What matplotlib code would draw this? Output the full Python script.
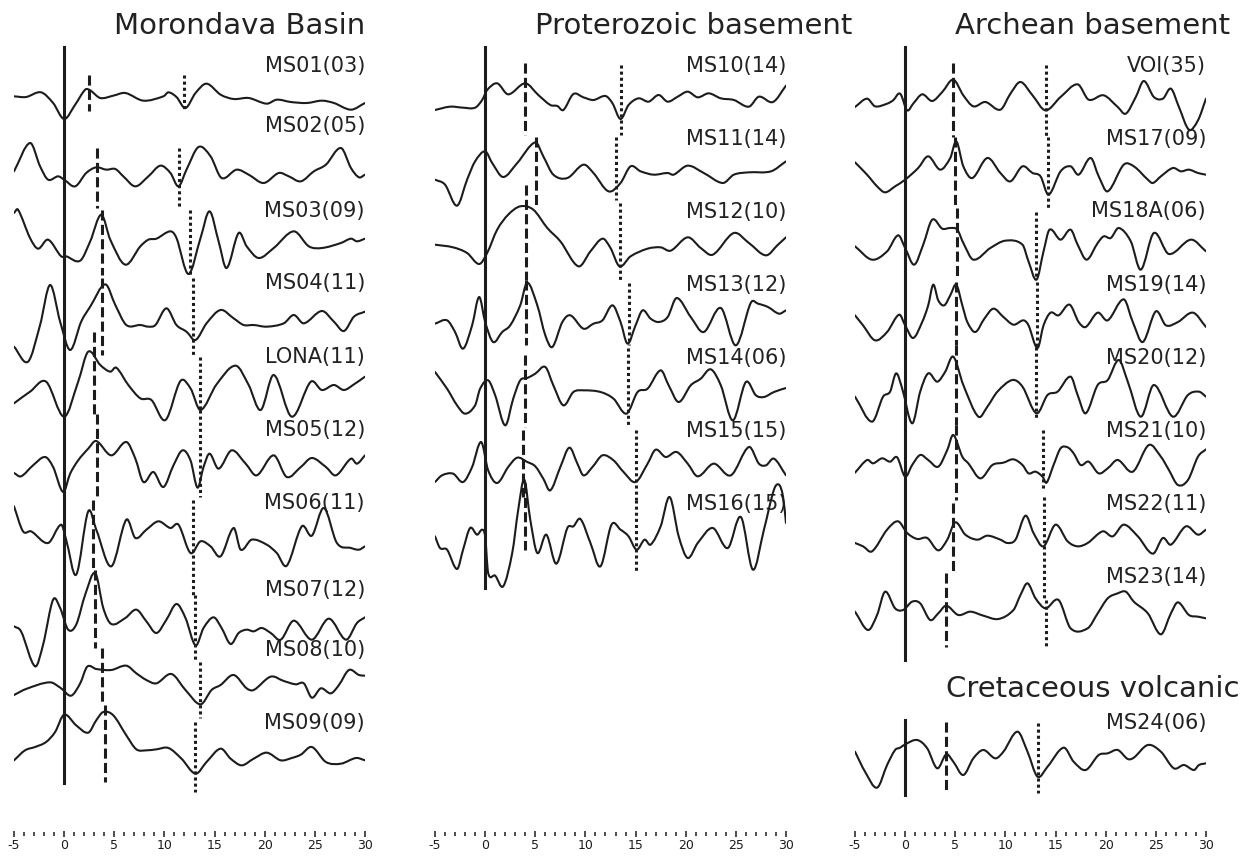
import numpy as np
import matplotlib
matplotlib.use('Agg')
import matplotlib.pyplot as plt
from matplotlib.ticker import MultipleLocator
from matplotlib.path import Path
from matplotlib.patches import PathPatch

plt.rcParams['axes.unicode_minus'] = False

# ---- receiver functions, time [s] and amplitude (arbitrary units) ----
# Morondava Basin
ms01_t = [-5.0, -3.8, -2.3, -1.1, 0.0, 1.1, 2.1, 2.6, 3.6, 4.9, 6.1, 7.9, 9.9, 10.4, 11.2, 12.1, 13.1, 14.2, 15.6, 16.9, 18.4, 20.2, 21.2, 22.6, 24.2, 25.7, 26.9, 28.6, 30.0]
ms01_a = [5, 3, 17, -15, -63, -20, 25, 23, 0, 7, 15, -8, 5, 17, 3, -30, 15, 43, 10, -3, 0, -17, -5, -12, -15, -8, -15, -35, -15]
ms02_t = [-5.0, -3.4, -2.4, -1.6, -0.6, 0.0, 1.1, 2.2, 3.2, 4.2, 5.1, 5.9, 7.1, 8.4, 9.6, 10.6, 11.4, 12.2, 13.4, 14.6, 15.7, 17.2, 18.4, 19.9, 21.4, 22.4, 23.6, 24.9, 26.1, 27.6, 28.6, 29.4, 30.0]
ms02_a = [5, 90, 20, -20, -10, -20, -40, 0, 17, 10, 12, -10, -40, -10, 22, 0, -40, 10, 78, 50, -15, 10, -5, -30, 0, -10, -25, 5, 25, 75, 15, -13, -5]
ms03_t = [-5.0, -4.6, -3.4, -2.6, -1.6, -0.3, 0.2, 1.6, 2.6, 3.7, 4.6, 6.1, 7.6, 8.4, 9.2, 10.6, 11.2, 12.4, 13.6, 14.5, 15.4, 16.2, 17.4, 18.2, 19.4, 20.9, 22.9, 24.4, 25.7, 27.6, 28.6, 29.2, 30.0]
ms03_a = [105, 115, 30, -2, 25, -25, -25, -38, 20, 100, 25, -50, 5, 25, 28, 50, 30, -78, 30, 110, 20, -60, 45, 5, -30, 0, 50, 5, 0, 15, 28, 20, 28]
ms04_t = [-5.0, -3.6, -2.4, -1.4, -0.4, 0.6, 1.7, 2.6, 4.1, 5.1, 6.2, 7.6, 8.4, 9.1, 10.2, 11.2, 12.2, 13.1, 14.2, 15.6, 16.9, 17.9, 18.9, 20.2, 21.9, 22.9, 23.9, 25.7, 26.9, 27.9, 28.9, 30.0]
ms04_a = [-65, -110, 0, 120, 10, -75, 10, 55, 122, 60, 0, 0, -5, 0, 50, 0, -20, -45, 5, 45, 20, 0, 0, -5, 5, 30, 5, 42, 10, -18, 25, 40]
lona_t = [-5.0, -3.4, -1.8, 0.0, 1.4, 2.4, 3.6, 4.6, 5.2, 6.4, 7.6, 8.7, 10.1, 11.6, 12.6, 13.6, 15.2, 17.1, 18.4, 19.6, 20.9, 22.7, 24.6, 25.7, 26.9, 27.9, 28.9, 30.0]
lona_a = [-25, 10, 40, -65, 40, 130, 90, 70, 82, 30, -10, -15, -75, 42, 20, -45, 32, 88, 30, -45, 60, -65, 40, 15, 30, 15, 32, 55]
ms05_t = [-5.0, -4.3, -3.1, -1.9, -1.1, -0.1, 0.6, 1.4, 2.4, 3.2, 4.7, 6.2, 7.1, 7.9, 8.9, 9.9, 10.9, 11.8, 12.6, 13.3, 13.9, 14.5, 15.4, 16.7, 18.1, 19.2, 20.9, 22.2, 23.6, 24.7, 26.1, 27.1, 28.6, 29.2, 30.0]
ms05_a = [-18, -28, 5, 30, 0, -75, -20, 20, 55, 78, 35, 75, 25, -45, -15, -60, 5, 50, 20, -62, 0, 40, -5, 50, 10, -25, 35, -30, 0, 27, 0, -25, 25, 10, 35]
ms06_t = [-5.0, -4.1, -3.3, -1.6, -0.3, 0.2, 1.2, 2.4, 3.2, 4.7, 6.2, 7.1, 8.2, 9.4, 10.6, 11.4, 12.6, 13.6, 14.6, 15.6, 16.9, 17.6, 18.7, 20.2, 21.2, 22.2, 23.7, 24.7, 25.9, 27.2, 28.6, 29.4, 30.0]
ms06_a = [110, 35, 35, 0, 55, 10, -95, 95, 40, -70, 70, 15, 40, 65, 45, 55, -30, 5, -10, -40, 45, -20, 10, -5, -30, -68, 50, 22, 105, 0, -15, -20, -10]
ms07_t = [-5.0, -4.3, -2.9, -2.1, -1.1, -0.4, 0.4, 1.2, 2.1, 3.1, 3.9, 4.7, 6.1, 7.2, 8.2, 9.2, 10.2, 11.2, 12.1, 13.1, 13.9, 14.9, 15.7, 16.6, 17.4, 18.2, 18.9, 19.7, 20.6, 21.6, 22.9, 24.7, 26.4, 28.1, 29.2, 30.0]
ms07_a = [5, -10, -115, -50, 85, 60, -5, 10, 100, 165, 60, 12, 30, 55, 20, -15, 25, 72, 30, -52, 0, 32, 0, -48, -15, -5, -10, 0, -15, -35, 22, -35, 28, -35, 15, 32]
ms08_t = [-5.0, -3.8, -1.4, -0.3, 0.7, 1.6, 2.3, 3.2, 4.7, 6.2, 7.2, 8.2, 9.2, 10.7, 12.1, 13.6, 14.7, 15.6, 16.9, 18.2, 18.9, 20.6, 21.9, 23.1, 23.9, 24.7, 25.6, 26.6, 27.4, 28.4, 29.4, 30.0]
ms08_a = [-30, -12, 8, -10, -32, 5, 55, 48, 45, 58, 35, 15, 5, 33, -15, -58, -15, 0, 30, -10, -15, 25, 12, 2, 5, -38, -10, -25, 0, 45, 30, 28]
ms09_t = [-5.0, -3.9, -2.9, -1.8, -0.9, 0.0, 1.2, 2.4, 3.2, 3.9, 4.9, 6.2, 7.2, 8.2, 9.2, 10.4, 11.7, 13.1, 14.2, 15.6, 16.6, 17.7, 18.9, 20.2, 21.6, 22.7, 23.6, 24.7, 26.1, 27.6, 29.1, 30.0]
ms09_a = [-25, 5, 15, 30, 60, 112, 80, 58, 95, 120, 110, 50, 8, 5, 8, 12, -20, -65, -30, 10, -20, -40, -20, -2, -25, -18, -8, 15, -30, -35, -18, -25]

# Proterozoic basement
ms10_t = [-5.0, -3.5, -2.2, -1.0, -0.3, 0.2, 1.2, 2.3, 4.0, 5.3, 6.5, 7.2, 7.8, 8.8, 9.8, 10.8, 12.0, 12.7, 13.5, 14.3, 15.3, 16.3, 17.3, 18.2, 19.2, 20.2, 21.2, 22.3, 23.5, 24.8, 26.3, 27.3, 28.7, 30.0]
ms10_a = [-30, -20, -23, -23, 0, 30, 50, 17, 50, 15, -15, -18, -30, 18, 8, 0, 12, -10, -57, -15, 5, -5, 15, -5, 10, 25, 8, 20, 5, 0, -20, 10, -6, 43]
ms11_t = [-5.0, -4.0, -2.8, -1.8, -1.0, 0.0, 0.7, 1.8, 3.2, 5.0, 5.8, 6.8, 8.2, 9.8, 10.8, 12.3, 13.5, 14.5, 15.5, 16.8, 18.2, 18.8, 20.2, 21.8, 23.7, 24.8, 26.3, 28.5, 30.0]
ms11_a = [-20, -35, -98, -20, 35, 65, 30, -12, 30, 92, 50, -5, -15, 25, 0, -55, -30, 20, 5, -5, 0, -5, 22, 0, -30, -5, 2, 5, 35]
ms12_t = [-5.0, -3.2, -1.8, -0.6, 0.2, 1.2, 2.3, 3.5, 4.8, 6.2, 7.5, 9.3, 10.5, 11.7, 12.5, 13.4, 14.5, 16.2, 17.5, 18.5, 20.2, 21.5, 22.7, 24.8, 26.3, 28.0, 29.2, 30.0]
ms12_a = [10, 2, -15, -48, -15, 55, 100, 125, 115, 60, 20, -55, -10, 28, 0, -55, -25, -2, 2, -8, 32, 0, -20, 45, 15, -22, 10, 32]
ms13_t = [-5.0, -3.8, -3.0, -2.2, -1.3, -0.6, 0.0, 0.8, 1.7, 2.5, 3.5, 4.2, 5.2, 6.0, 6.7, 7.7, 8.5, 9.8, 10.8, 11.7, 12.7, 13.5, 14.2, 15.0, 15.7, 16.5, 17.3, 18.2, 19.1, 20.5, 21.8, 23.5, 25.0, 26.5, 27.2, 28.2, 29.3, 30.0]
ms13_a = [-5, 5, -30, -80, -10, 75, 0, -60, -30, -10, 50, 118, 50, -40, -75, 0, 20, -20, -5, 5, 50, 0, -65, -10, 35, 10, 0, 15, 72, 15, -30, 42, -70, 58, 55, 45, 25, 35]
ms14_t = [-5.0, -3.8, -2.8, -2.0, -1.0, -0.5, 0.3, 1.0, 2.0, 2.8, 3.5, 4.2, 5.0, 6.0, 6.8, 7.8, 8.8, 9.8, 11.5, 12.8, 14.1, 15.2, 16.2, 17.5, 18.3, 19.3, 20.5, 21.5, 22.5, 23.5, 24.7, 26.0, 27.0, 27.8, 28.8, 30.0]
ms14_a = [60, 10, -40, -65, -40, 10, 35, -10, -100, -20, 35, 42, 55, 75, 20, -40, 0, 5, 0, -20, -65, 0, 10, 65, 20, -30, 20, 40, 68, 20, -85, 30, -10, -15, 0, 12]
ms15_t = [-5.0, -4.3, -3.2, -2.2, -1.3, -0.4, 0.3, 1.2, 2.3, 3.2, 4.2, 5.0, 5.8, 6.5, 7.5, 8.4, 9.2, 9.8, 10.7, 11.7, 12.8, 13.8, 15.0, 16.2, 17.0, 18.0, 19.1, 20.2, 21.2, 22.8, 24.5, 26.3, 27.3, 28.0, 28.8, 30.0]
ms15_a = [-45, -25, -20, -45, 0, 75, -10, -48, 0, 28, 15, 2, -35, -70, 0, 58, 10, -25, 0, 35, 20, -15, -45, 10, 52, 30, 45, 10, -28, 10, -25, 60, 10, 5, 25, -25]
ms16_t = [-5.0, -4.5, -3.8, -2.8, -2.2, -1.5, -0.8, -0.3, 0.0, 0.3, 1.0, 1.8, 2.7, 3.3, 3.9, 4.5, 5.2, 6.1, 7.1, 8.2, 8.8, 9.5, 10.5, 11.5, 12.6, 13.5, 14.3, 15.1, 15.9, 16.5, 17.5, 18.4, 19.3, 20.2, 21.2, 22.7, 24.2, 25.5, 26.7, 27.8, 28.8, 29.3, 29.7, 30.0]
ms16_a = [20, -15, -20, -78, -20, 45, 25, 40, 20, -90, -98, -130, -30, 100, 190, 70, -30, 25, -62, 45, 50, 72, 0, -70, 55, 40, 20, -20, 10, -5, 50, 138, 20, -45, 0, 45, -15, 78, -80, 40, 160, 175, 140, 60]

# Archean basement
voi_t = [-5.0, -3.8, -3.0, -1.8, -1.2, -0.5, 0.2, 0.8, 1.7, 2.7, 3.7, 4.8, 5.8, 6.8, 8.0, 9.5, 10.5, 11.5, 12.7, 14.0, 15.5, 17.2, 18.3, 19.8, 21.2, 22.0, 23.0, 23.8, 24.8, 25.7, 26.5, 27.3, 28.3, 29.2, 30.0]
voi_a = [-15, 10, -13, -5, 5, 25, -25, -5, 23, 3, 30, 67, 20, -13, 0, -23, 25, 60, 20, -25, 15, 53, 7, 20, -15, -35, 15, 63, 15, 10, 40, -15, -83, -55, 10]
ms17_t = [-5.0, -3.8, -2.8, -2.0, -1.0, 0.0, 1.3, 2.3, 3.5, 4.5, 5.1, 5.8, 6.7, 8.2, 9.5, 10.5, 11.7, 12.7, 13.5, 14.3, 15.5, 16.5, 17.3, 18.5, 19.3, 20.2, 21.8, 22.8, 24.2, 24.7, 25.5, 26.7, 27.5, 28.3, 29.2, 30.0]
ms17_a = [32, -5, -40, -58, -40, -20, 15, 50, 10, 45, 95, 20, -15, 45, 0, -25, 20, 0, -10, -65, 5, 20, -5, 45, -10, -55, 25, 20, -20, -30, -10, 15, 5, 10, 0, -5]
ms18a_t = [-5.0, -3.3, -1.8, -0.7, 0.0, 0.9, 1.8, 2.7, 3.7, 4.5, 5.2, 5.8, 6.8, 8.5, 10.0, 11.7, 12.3, 13.1, 13.8, 14.4, 15.5, 16.5, 17.2, 18.1, 19.2, 19.8, 20.5, 21.3, 22.5, 23.5, 24.8, 26.3, 28.5, 30.0]
ms18a_a = [5, -35, -10, 38, 0, -50, 10, 85, 58, 60, 55, 15, -35, 0, 22, 10, -40, -95, -10, 55, 25, 55, 10, -35, 15, 35, 30, 60, 20, -65, 45, -18, 25, -10]
ms19_t = [-5.0, -4.2, -3.0, -1.8, -0.6, 0.0, 0.8, 1.7, 2.3, 2.8, 3.3, 3.9, 4.5, 5.1, 5.7, 6.2, 7.0, 7.9, 8.8, 9.8, 10.8, 11.8, 12.3, 13.2, 13.8, 14.5, 15.3, 16.4, 17.3, 18.0, 19.2, 20.2, 21.8, 22.7, 23.7, 25.0, 26.0, 27.2, 28.7, 30.0]
ms19_a = [20, -10, -55, -30, 22, -10, -48, 0, 50, 112, 65, 50, 80, 112, 50, 0, -30, 10, 40, 15, -8, 5, -10, -78, -10, 28, 20, 52, 0, -15, 28, 5, 68, 0, -60, 32, -10, 0, 28, -15]
ms20_t = [-5.0, -3.3, -2.2, -1.5, -0.9, -0.3, 0.7, 1.5, 2.3, 3.2, 4.0, 4.8, 5.8, 7.3, 8.2, 9.2, 10.7, 11.7, 13.1, 14.2, 15.2, 16.5, 17.2, 18.0, 19.2, 20.2, 21.3, 22.2, 23.5, 24.8, 26.7, 28.2, 29.3, 30.0]
ms20_a = [-5, -80, -5, 10, 65, 20, -85, 10, 65, 40, 70, 115, 30, -65, -35, 10, 45, 25, -55, 0, 10, 55, 0, -55, 30, 45, 105, 40, -65, 30, -65, 0, 10, -5]
ms21_t = [-5.0, -3.8, -3.2, -2.3, -1.5, -0.8, 0.0, 0.7, 1.5, 2.3, 3.3, 4.2, 4.8, 5.7, 6.3, 7.5, 8.7, 9.8, 10.8, 11.7, 12.3, 13.0, 13.7, 14.1, 14.8, 15.5, 16.2, 16.8, 17.5, 18.3, 19.3, 20.2, 21.2, 22.7, 24.3, 25.5, 26.3, 27.2, 28.2, 29.2, 30.0]
ms21_a = [-23, 15, 5, 20, 10, 23, -35, 0, 30, 15, -5, 45, 90, 25, 5, -40, 0, 7, 17, 0, -25, -20, -35, -53, 0, 50, 53, 35, 0, 10, -25, -10, 15, -20, 60, 25, -15, -60, -45, 25, 47]
ms22_t = [-5.0, -4.2, -3.3, -1.8, -0.7, 0.2, 1.2, 2.2, 3.3, 4.2, 5.0, 6.0, 7.2, 8.2, 9.5, 10.2, 11.0, 12.0, 12.8, 13.8, 15.0, 16.2, 17.2, 18.2, 19.7, 20.7, 21.8, 23.2, 24.7, 25.7, 26.5, 28.0, 29.2, 30.0]
ms22_a = [-15, -25, -40, 25, 50, 15, -3, 0, -37, -5, 47, 10, -5, 7, -5, -15, -5, 67, 15, -25, 40, -10, -25, -15, 20, 5, 40, 5, -47, 0, -20, 35, 10, 25]
ms23_t = [-5.0, -3.7, -2.8, -2.0, -1.0, -0.2, 0.7, 1.5, 2.5, 3.3, 4.1, 5.3, 6.5, 7.8, 9.3, 10.8, 11.5, 12.2, 13.0, 14.0, 15.3, 16.5, 18.2, 19.2, 20.2, 21.2, 22.0, 22.8, 24.2, 25.5, 26.5, 27.2, 28.3, 29.2, 30.0]
ms23_a = [-5, -60, -15, 55, 5, 0, 25, 20, -30, -10, 13, -15, -5, -17, -27, 0, 45, 80, 35, 5, 30, -55, -55, -10, 35, 50, 55, 25, -10, -73, -10, 23, -15, -20, -25]

# Cretaceous volcanic
ms24_t = [-5.0, -4.0, -2.8, -1.8, -1.0, -0.5, 0.0, 1.2, 2.2, 3.2, 4.1, 4.8, 5.8, 6.8, 7.8, 9.0, 9.8, 11.2, 12.2, 13.2, 14.2, 15.8, 16.8, 18.0, 19.3, 20.2, 21.2, 22.2, 22.8, 24.2, 25.5, 26.8, 27.8, 28.8, 29.3, 30.0]
ms24_a = [10, -50, -98, -30, 15, 22, 32, 45, 20, -40, 2, -20, -60, -10, 15, -10, 10, 70, 10, -65, -35, 22, -20, -45, 0, 5, 15, -12, -8, 30, 10, -40, -30, -45, -30, -25]

# station labels and picked Ps / PpPs times [s]
basin_names = ['MS01(03)', 'MS02(05)', 'MS03(09)', 'MS04(11)', 'LONA(11)',
               'MS05(12)', 'MS06(11)', 'MS07(12)', 'MS08(10)', 'MS09(09)']
basin_ps = [2.5, 3.3, 3.8, 3.8, 3.0, 3.3, 2.9, 3.1, 3.8, 4.1]
basin_ppps = [12.0, 11.5, 12.5, 12.8, 13.5, 13.5, 12.8, 13.0, 13.5, 13.0]

prot_names = ['MS10(14)', 'MS11(14)', 'MS12(10)', 'MS13(12)', 'MS14(06)', 'MS15(15)', 'MS16(15)']
prot_ps = [4.0, 5.1, 4.1, 4.1, 4.0, 3.8, 4.0]
prot_ppps = [13.5, 13.0, 13.4, 14.3, 14.2, 15.0, 15.0]

arch_names = ['VOI(35)', 'MS17(09)', 'MS18A(06)', 'MS19(14)', 'MS20(12)', 'MS21(10)', 'MS22(11)', 'MS23(14)']
arch_ps = [4.8, 5.0, 5.2, 5.1, 5.1, 5.1, 4.8, 4.1]
arch_ppps = [14.0, 14.2, 13.0, 13.1, 13.0, 13.7, 13.8, 14.0]

volc_names = ['MS24(06)']
volc_ps = [4.1]
volc_ppps = [13.2]

basin_traces = [(ms01_t, ms01_a), (ms02_t, ms02_a), (ms03_t, ms03_a), (ms04_t, ms04_a), (lona_t, lona_a),
                (ms05_t, ms05_a), (ms06_t, ms06_a), (ms07_t, ms07_a), (ms08_t, ms08_a), (ms09_t, ms09_a)]
prot_traces = [(ms10_t, ms10_a), (ms11_t, ms11_a), (ms12_t, ms12_a), (ms13_t, ms13_a),
               (ms14_t, ms14_a), (ms15_t, ms15_a), (ms16_t, ms16_a)]
arch_traces = [(voi_t, voi_a), (ms17_t, ms17_a), (ms18a_t, ms18a_a), (ms19_t, ms19_a),
               (ms20_t, ms20_a), (ms21_t, ms21_a), (ms22_t, ms22_a), (ms23_t, ms23_a)]
volc_traces = [(ms24_t, ms24_a)]

# ---- layout (pixel rows of the figure) ----
W, H = 1252, 858
ink = '#1c1c1c'
amp_scale = 1 / 3.0

basin_base = [98, 173, 248, 325, 395, 467, 543, 628, 685, 752]
basin_lab = [72, 132, 217, 289, 363, 436, 509, 596, 656, 729]
basin_dash = [(75, 111), (148, 208), (210, 275), (278, 355), (332, 414), (414, 497), (500, 570), (570, 648), (648, 705), (705, 782)]
basin_dot = [(75, 111), (148, 208), (210, 275), (278, 357), (357, 410), (410, 497), (500, 595), (595, 662), (662, 718), (722, 792)]

prot_base = [100, 173, 248, 322, 392, 467, 543]
prot_lab = [72, 145, 218, 291, 364, 437, 510]
prot_dash = [(63, 135), (137, 208), (185, 280), (280, 345), (355, 427), (430, 497), (483, 550)]
prot_dot = [(65, 135), (137, 200), (203, 280), (283, 345), (348, 427), (430, 500), (500, 573)]

arch_base = [102, 173, 248, 322, 395, 465, 538, 610]
arch_lab = [72, 145, 217, 291, 364, 437, 510, 583]
arch_dash = [(63, 137), (137, 208), (208, 278), (282, 345), (345, 425), (425, 500), (503, 573), (573, 647)]
arch_dot = [(65, 137), (137, 208), (212, 278), (282, 347), (347, 420), (430, 490), (497, 600), (600, 647)]

volc_base = [755]
volc_lab = [729]
volc_dash = [(722, 793)]
volc_dot = [(723, 793)]

cols = [(14, 365), (435, 786), (855, 1206)]

fig = plt.figure(figsize=(W / 100, H / 100), dpi=100)


def px_axes(x0, x1):
    ax = fig.add_axes([x0 / W, 0, (x1 - x0) / W, 1])
    ax.set_xlim(-5, 30)
    ax.set_ylim(H, 0)
    ax.axis('off')
    return ax


def smooth_trace(ax, t, y):
    # draw the picked samples as one smooth Bezier path (cubic Hermite form)
    t = np.asarray(t, float)
    y = np.asarray(y, float)
    n = len(t)
    m = np.empty(n)
    m[0] = (y[1] - y[0]) / (t[1] - t[0])
    m[-1] = (y[-1] - y[-2]) / (t[-1] - t[-2])
    m[1:-1] = (y[2:] - y[:-2]) / (t[2:] - t[:-2])
    verts = [(t[0], y[0])]
    codes = [Path.MOVETO]
    for i in range(n - 1):
        h = t[i + 1] - t[i]
        verts += [(t[i] + h / 3, y[i] + m[i] * h / 3),
                  (t[i + 1] - h / 3, y[i + 1] - m[i + 1] * h / 3),
                  (t[i + 1], y[i + 1])]
        codes += [Path.CURVE4] * 3
    ax.add_patch(PathPatch(Path(verts, codes), fill=False, edgecolor=ink, lw=1.5,
                           joinstyle='round', capstyle='round', zorder=3))


def draw_group(ax, names, traces, ps, ppps, base, lab, dash, dot):
    for i, (t, a) in enumerate(traces):
        y = base[i] - np.asarray(a, dtype=float) * amp_scale
        smooth_trace(ax, t, y)
        ax.plot([ps[i], ps[i]], dash[i], color=ink, lw=2.2, ls=(0, (3.3, 1.4)), zorder=2)
        ax.plot([ppps[i], ppps[i]], dot[i], color=ink, lw=2.2, ls=(0, (1, 1)), zorder=2)
        ax.text(30, lab[i], names[i], ha='right', va='baseline', fontsize=15, color='#222222', zorder=1)


ax1 = px_axes(*cols[0])
ax2 = px_axes(*cols[1])
ax3 = px_axes(*cols[2])

draw_group(ax1, basin_names, basin_traces, basin_ps, basin_ppps, basin_base, basin_lab, basin_dash, basin_dot)
draw_group(ax2, prot_names, prot_traces, prot_ps, prot_ppps, prot_base, prot_lab, prot_dash, prot_dot)
draw_group(ax3, arch_names, arch_traces, arch_ps, arch_ppps, arch_base, arch_lab, arch_dash, arch_dot)
draw_group(ax3, volc_names, volc_traces, volc_ps, volc_ppps, volc_base, volc_lab, volc_dash, volc_dot)

# P arrival lines
ax1.plot([0, 0], [47, 783], color=ink, lw=2.2)
ax2.plot([0, 0], [47, 588], color=ink, lw=2.2)
ax3.plot([0, 0], [47, 660], color=ink, lw=2.2)
ax3.plot([0, 0], [720, 795], color=ink, lw=2.2)

title_kw = dict(fontsize=21, ha='left', va='baseline', color='#222222')
ax1.text(5, 34, 'Morondava Basin', **title_kw)
ax2.text(5, 34, 'Proterozoic basement', **title_kw)
ax3.text(5, 34, 'Archean basement', **title_kw)
ax3.text(4.1, 697, 'Cretaceous volcanic', **title_kw)

# time axes
for x0, x1 in cols:
    tx = fig.add_axes([x0 / W, (H - 834) / H, (x1 - x0) / W, 0.001])
    tx.set_xlim(-5, 30)
    tx.set_yticks([])
    for s in tx.spines.values():
        s.set_visible(False)
    tx.patch.set_visible(False)
    tx.xaxis.set_major_locator(MultipleLocator(5))
    tx.xaxis.set_minor_locator(MultipleLocator(1))
    tx.tick_params(axis='x', which='major', direction='inout', length=4.8, width=1.1,
                   pad=1.5, labelsize=9, colors=ink)
    tx.tick_params(axis='x', which='minor', direction='inout', length=2.9, width=1.1, colors=ink)

fig.savefig('out.png', dpi=100)
